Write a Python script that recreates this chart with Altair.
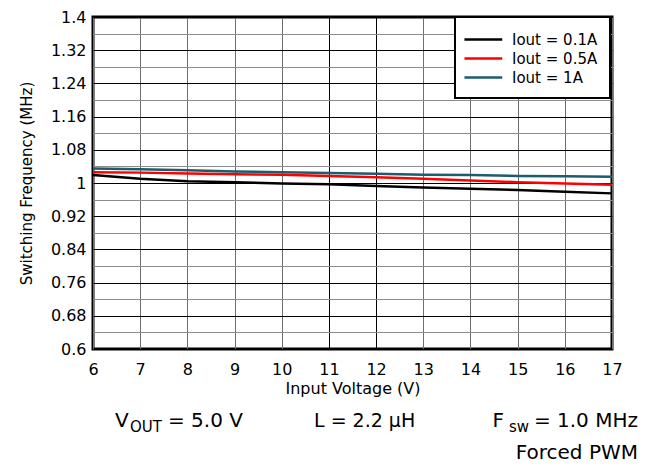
import altair as alt
import pandas as pd

# ---- data ----
vin = [6, 7, 8, 9, 10, 11, 12, 13, 14, 15, 16, 17]
f_01 = [1.019, 1.010, 1.004, 1.002, 0.999, 0.997, 0.993, 0.989, 0.986, 0.983, 0.979, 0.975]
f_05 = [1.026, 1.025, 1.023, 1.021, 1.020, 1.017, 1.014, 1.010, 1.006, 1.002, 0.999, 0.996]
f_1 = [1.035, 1.033, 1.031, 1.028, 1.026, 1.024, 1.022, 1.020, 1.019, 1.017, 1.016, 1.015]
series = ["Iout = 0.1A", "Iout = 0.5A", "Iout = 1A"]
colors = ["#000000", "#ff0000", "#1b5c6e"]
x_ticks = [6, 7, 8, 9, 10, 11, 12, 13, 14, 15, 16, 17]
y_ticks = [0.6, 0.64, 0.68, 0.72, 0.76, 0.8, 0.84, 0.88, 0.92, 0.96, 1.0,
           1.04, 1.08, 1.12, 1.16, 1.2, 1.24, 1.28, 1.32, 1.36, 1.4]

rows = []
for name, vals in zip(series, [f_01, f_05, f_1]):
    for v, f in zip(vin, vals):
        rows.append({"vin": v, "freq": f, "series": name})
df = pd.DataFrame(rows)

major = "round((datum.value - 0.6) / 0.04) % 2 == 0"
dark_x = "datum.value == 11 || datum.value == 12"
FONT = "DejaVu Sans"

lines = alt.Chart(df).mark_line(strokeWidth=2.5).encode(
    x=alt.X(
        "vin:Q",
        scale=alt.Scale(domain=[6, 17], nice=False, zero=False),
        axis=alt.Axis(
            values=x_ticks, format="d", title="Input Voltage (V)",
            grid=True, gridWidth=1,
            gridColor={"condition": {"test": dark_x, "value": "#000000"}, "value": "#6e6e6e"},
            ticks=False, domain=False,
            labelFont=FONT, labelFontSize=16, labelColor="black",
            labelPadding=12, labelFlush=False, labelOverlap=False,
            titleFont=FONT, titleFontSize=16, titleFontWeight="normal",
            titleColor="black", titleBaseline="alphabetic", titleY=44,
        ),
    ),
    y=alt.Y(
        "freq:Q",
        scale=alt.Scale(domain=[0.6, 1.4], nice=False, zero=False),
        axis=alt.Axis(
            values=y_ticks, format="~g",
            labelExpr=f"{major} ? datum.label : ''",
            title="Switching Frequency (MHz)",
            grid=True, gridWidth=1,
            gridColor={"condition": {"test": major, "value": "#000000"}, "value": "#8c8c8c"},
            ticks=False, domain=False,
            labelFont=FONT, labelFontSize=16, labelColor="black",
            labelPadding=7, labelOverlap=False, labelFlush=False,
            titleFont=FONT, titleFontSize=15, titleFontWeight="normal",
            titleColor="black", titleBaseline="alphabetic", titleX=-62, titleY=166,
        ),
    ),
    color=alt.Color(
        "series:N",
        scale=alt.Scale(domain=series, range=colors),
        sort=series,
        legend=alt.Legend(
            title=None, orient="none", legendX=362, legendY=0,
            fillColor="white", strokeColor="black", padding=12,
            symbolType="M-1.45,0H2.75", symbolSize=324, symbolStrokeWidth=2.5,
            labelFont=FONT, labelFontSize=15, labelColor="black",
            labelOffset=24, rowPadding=0,
        ),
    ),
)


def txt(s, x, y, size=20, align="left"):
    return alt.Chart(pd.DataFrame({"t": [s]})).mark_text(
        font=FONT, fontSize=size, align=align, baseline="alphabetic", color="black"
    ).encode(text="t:N", x=alt.value(x), y=alt.value(y))


texts = [
    txt("V", 22, 410),
    txt("OUT", 37, 415, size=15),
    txt("= 5.0 V", 75, 410),
    txt("L = 2.2 \u03bcH", 221, 410, size=19),
    txt("F", 399.5, 410),
    txt("sw", 416, 415, size=15),
    txt("= 1.0 MHz", 545, 410, align="right"),
    txt("Forced PWM", 545, 442, align="right"),
]

chart = alt.layer(lines, *texts).properties(
    width=519, height=332,
    autosize=alt.AutoSizeParams(type="none"),
    padding={"left": 85, "top": 9, "right": 34, "bottom": 115},
).configure_view(
    stroke="black", strokeWidth=3
).configure_legend(
    strokeWidth=2
)

chart.save("out.html", embed_options={"renderer": "svg", "actions": False})
